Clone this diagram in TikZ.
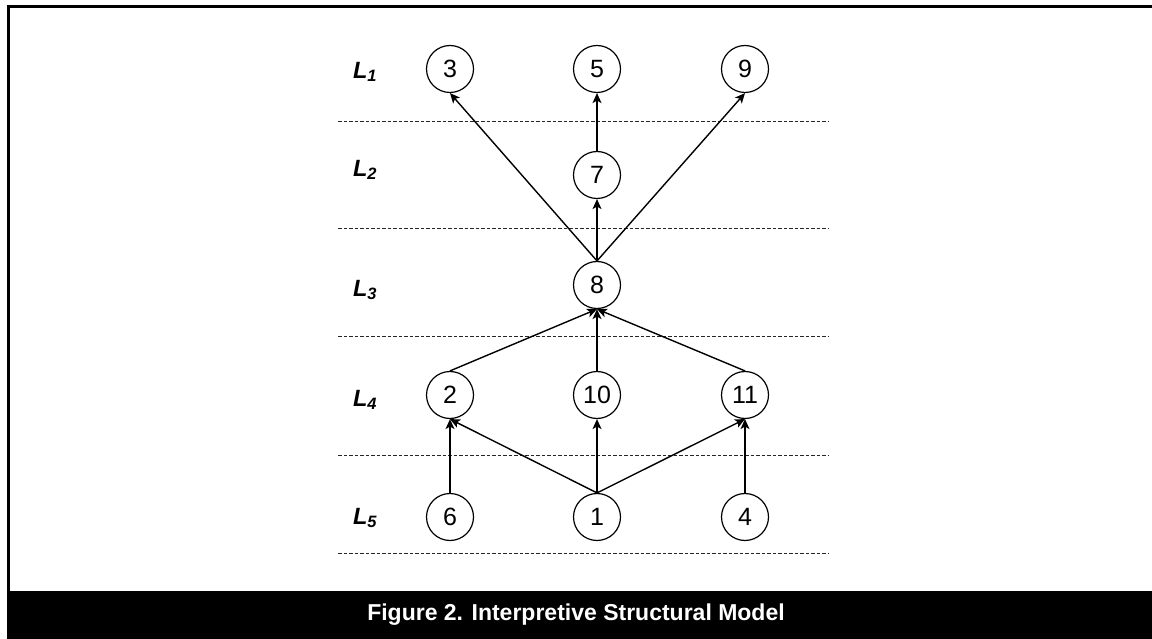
\documentclass[tikz,border=0pt]{standalone}
\usepackage{fontspec}
\setmainfont{Liberation Sans}
\usetikzlibrary{arrows.meta}
\begin{document}
\begin{tikzpicture}[x=1pt,y=-1pt,
  cnode/.style={circle,draw,line width=1.2pt,minimum size=47pt,inner sep=0pt,font=\fontsize{25}{27}\selectfont},
  edge/.style={line width=1.4pt,-{Stealth[length=10pt,width=9pt,inset=2.5pt]}},
  sep/.style={dashed,dash pattern=on 3.5pt off 2pt,line width=0.9pt,black!85},
  lvl/.style={font=\fontsize{23.5}{26}\selectfont\bfseries\itshape}]
\useasboundingbox (0,0) rectangle (1152,639);
% frame and caption bar
\draw[line width=3pt] (1154,7) -- (8,7) -- (8,592);
\fill (6.5,591) rectangle (1152,639);
\node[text=white,font=\fontsize{23}{26}\selectfont\bfseries] (cap) at (576,615) {Figure 2. Interpretive Structural Model};
% level separators
\foreach \y/\n in {121/a,228/b,336/c,455/d,553/e}{
  \coordinate (s\n l) at (338,\y);
  \coordinate (s\n r) at (828,\y);
  \draw[sep] (s\n l) -- (s\n r);
}
% level labels
\node[lvl] (L1) at (365,72) {L\textsubscript{1}};
\node[lvl] (L2) at (365,170) {L\textsubscript{2}};
\node[lvl] (L3) at (365,290) {L\textsubscript{3}};
\node[lvl] (L4) at (365,400) {L\textsubscript{4}};
\node[lvl] (L5) at (365,518) {L\textsubscript{5}};
% nodes
\node[cnode] (n3) at (450,69) {3};
\node[cnode] (n5) at (597,69) {5};
\node[cnode] (n9) at (745,69) {9};
\node[cnode] (n7) at (597,175) {7};
\node[cnode] (n8) at (597,285) {8};
\node[cnode] (n2) at (450,395) {2};
\node[cnode] (n10) at (597,395) {10};
\node[cnode] (n11) at (745,395) {11};
\node[cnode] (n6) at (450,517) {6};
\node[cnode] (n1) at (597,517) {1};
\node[cnode] (n4) at (745,517) {4};
% edges
\draw[edge] (n8.north) -- (n3.south);
\draw[edge] (n8.north) -- (n7.south);
\draw[edge] (n8.north) -- (n9.south);
\draw[edge] (n7.north) -- (n5.south);
\draw[edge] (n2.north) -- (n8.south);
\draw[edge] (n10.north) -- (n8.south);
\draw[edge] (n11.north) -- (n8.south);
\draw[edge] (n6.north) -- (n2.south);
\draw[edge] (n1.north) -- (n2.south);
\draw[edge] (n1.north) -- (n10.south);
\draw[edge] (n1.north) -- (n11.south);
\draw[edge] (n4.north) -- (n11.south);
\end{tikzpicture}
\end{document}
